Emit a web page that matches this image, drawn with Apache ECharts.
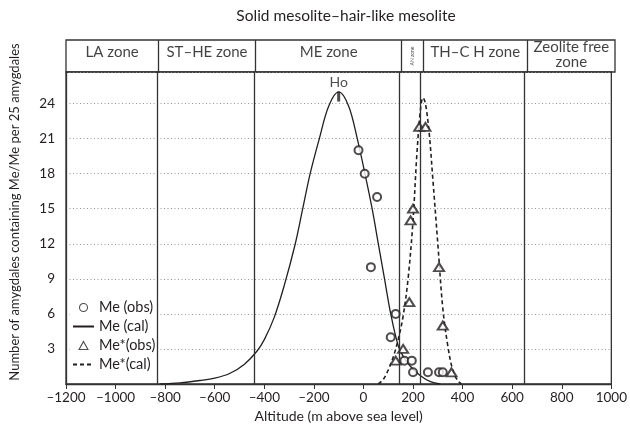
<!DOCTYPE html>
<html>
<head>
<meta charset="utf-8">
<script src="https://cdn.jsdelivr.net/npm/echarts@6/dist/echarts.min.js"></script>
<style>
	html, body { margin: 0; padding: 0; background: #fff; }
	#chart { width: 630px; height: 429px; }
</style>
</head>
<body>
<div id="chart"></div>
<script>
// zones along the altitude axis
var zoneNames = ['LA zone', 'ST–HE zone', 'ME zone', 'AN zone', 'TH–C H zone', 'Zeolite free\nzone'];
var zoneEdges = [-1200, -830, -440, 145, 230, 650, 1000];

// Me observed / calculated
var meObs = [[-20, 20], [5, 18], [55, 16], [30, 10], [130, 6], [110, 4], [165, 2], [195, 2], [200, 1], [260, 1], [305, 1], [320, 1]];
var meCalX = [-820, -740, -660, -600, -540, -480, -430, -400, -360, -320, -275, -245, -215, -178, -140, -100, -60, -25, 10, 35, 60, 85, 110, 140, 165, 190, 230, 270, 310];
var meCalY = [0, 0.1, 0.3, 0.5, 0.9, 1.7, 2.8, 3.8, 5.7, 8.4, 12, 15, 18, 21, 23.8, 25, 23.8, 21, 17.6, 15, 12, 9, 6, 3.3, 2.2, 1.5, 0.7, 0.2, 0];

// Me* observed / calculated
var meStarObs = [[225, 22], [250, 22], [200, 15], [190, 14], [185, 7], [160, 3], [130, 2], [305, 10], [320, 5], [355, 1]];
var meStarCalX = [60, 80, 100, 120, 140, 160, 180, 200, 215, 230, 240, 250, 265, 280, 300, 320, 340, 360, 380, 395];
var meStarCalY = [0, 0.4, 1.2, 2.3, 3.8, 5.8, 9, 14, 19.5, 23.5, 24.5, 24, 21.5, 17.5, 12, 6.5, 3.3, 1.2, 0.3, 0];

// Ho marker at the Me peak
var hoPoint = [-100, 24.6];

var yTicks = [3, 6, 9, 12, 15, 18, 21, 24];

var FONT = 'Lato';
var INK = '#231f20';

function pairs(xs, ys) {
	var out = [];
	for (var i = 0; i < xs.length; i++) out.push([xs[i], ys[i]]);
	return out;
}

var zoneLabels = [];
for (var i = 0; i < zoneNames.length; i++) {
	var item = {
		name: zoneNames[i],
		value: [(zoneEdges[i] + zoneEdges[i + 1]) / 2, 0.62]
	};
	if (zoneNames[i] === 'AN zone') {
		item.label = { rotate: 90, fontSize: 5 };
		item.value = [(zoneEdges[i] + zoneEdges[i + 1]) / 2, 0.5];
	}
	if (zoneNames[i].indexOf('\n') >= 0) {
		item.value = [(zoneEdges[i] + zoneEdges[i + 1]) / 2, 0.55];
	}
	zoneLabels.push(item);
}
var boundaryLines = zoneEdges.slice(1, zoneEdges.length - 1).map(function (v) {
	return { xAxis: v };
});

var myChart = echarts.init(document.getElementById('chart'));
var option = {
	animation: false,
	backgroundColor: '#fff',
	textStyle: { fontFamily: FONT, color: INK },
	title: {
		text: 'Solid mesolite–hair-like mesolite',
		left: 341,
		textAlign: 'center',
		top: 3,
		textStyle: { fontFamily: FONT, fontSize: 15.5, fontWeight: 'normal', color: INK }
	},
	legend: {
		orient: 'vertical',
		left: 70,
		top: 297,
		itemGap: 4,
		itemWidth: 21,
		itemHeight: 8,
		backgroundColor: '#fff',
		padding: [3, 4, 3, 2],
		textStyle: { fontFamily: FONT, fontSize: 14.5, color: INK },
		data: [
			{ name: 'Me (obs)', icon: 'circle', itemStyle: { color: '#fff', borderColor: INK, borderWidth: 1.1 } },
			{ name: 'Me (cal)', itemStyle: { opacity: 0 } },
			{ name: 'Me*(obs)', icon: 'path://M5,0 L10,9 L0,9 Z', itemStyle: { color: '#fff', borderColor: INK, borderWidth: 1.1 } },
			{ name: 'Me*(cal)', itemStyle: { opacity: 0 } }
		]
	},
	grid: [
		// zone header
		{ left: 66, right: 15, top: 40, height: 32, show: true, borderColor: '#333', borderWidth: 1.3 },
		// data area
		{ left: 66, right: 15, top: 72, bottom: 45, show: true, borderColor: '#333', borderWidth: 1.3 }
	],
	xAxis: [
		{ gridIndex: 0, type: 'value', min: -1200, max: 1000, show: false },
		{
			gridIndex: 1,
			type: 'value',
			min: -1200,
			max: 1000,
			interval: 200,
			name: 'Altitude (m above sea level)',
			nameLocation: 'middle',
			nameGap: 25,
			nameTextStyle: { fontFamily: FONT, fontSize: 14, color: INK },
			axisLine: { onZero: false, lineStyle: { color: '#333', width: 1.3 } },
			axisTick: { length: 5, lineStyle: { color: '#333' } },
			axisLabel: {
				fontFamily: FONT, fontSize: 13.5, color: INK, margin: 7,
				formatter: function (v) { return v < 0 ? '–' + Math.abs(v) : String(v); }
			},
			splitLine: { show: false }
		}
	],
	yAxis: [
		{ gridIndex: 0, type: 'value', min: 0, max: 1, show: false },
		{
			gridIndex: 1,
			type: 'value',
			min: 0,
			max: 26.7,
			interval: 3,
			name: 'Number of amygdales containing Me/Me per 25 amygdales',
			nameLocation: 'middle',
			nameGap: 45,
			nameTextStyle: { fontFamily: FONT, fontSize: 13, color: INK, padding: [0, 0, 0, 32] },
			axisLine: { show: true, onZero: false, lineStyle: { color: '#333', width: 1.3 } },
			axisTick: { show: false },
			axisLabel: {
				fontFamily: FONT, fontSize: 13.5, color: INK, margin: 11,
				formatter: function (v) { return yTicks.indexOf(v) >= 0 ? String(v) : ''; }
			},
			splitLine: { show: true, lineStyle: { color: '#8a8a8a', type: [1, 2.5], width: 0.9 } }
		}
	],
	series: [
		{
			name: 'zones',
			type: 'scatter',
			xAxisIndex: 0,
			yAxisIndex: 0,
			silent: true,
			symbolSize: 0,
			data: zoneLabels,
			label: {
				show: true,
				position: 'inside',
				formatter: '{b}',
				fontFamily: FONT,
				fontSize: 15,
				lineHeight: 15,
				color: '#111'
			},
			markLine: {
				silent: true,
				symbol: 'none',
				label: { show: false },
				lineStyle: { color: '#333', type: 'solid', width: 1.3 },
				data: boundaryLines
			}
		},
		{
			name: 'Me (cal)',
			type: 'line',
			xAxisIndex: 1,
			yAxisIndex: 1,
			smooth: 0.35,
			symbol: 'none',
			showSymbol: false,
			lineStyle: { color: INK, width: 1.3 },
			itemStyle: { color: INK },
			data: pairs(meCalX, meCalY),
			markLine: {
				silent: true,
				symbol: 'none',
				label: { show: false },
				lineStyle: { color: '#333', type: 'solid', width: 1.3 },
				data: boundaryLines
			}
		},
		{
			name: 'Me*(cal)',
			type: 'line',
			xAxisIndex: 1,
			yAxisIndex: 1,
			smooth: 0.35,
			symbol: 'none',
			showSymbol: false,
			lineStyle: { color: INK, width: 1.6, type: [4, 3] },
			itemStyle: { color: INK },
			data: pairs(meStarCalX, meStarCalY)
		},
		{
			name: 'Me (obs)',
			type: 'scatter',
			xAxisIndex: 1,
			yAxisIndex: 1,
			symbol: 'emptyCircle',
			symbolSize: 8,
			itemStyle: { color: INK, borderColor: INK, borderWidth: 1.1 },
			data: meObs,
			z: 4
		},
		{
			name: 'Me*(obs)',
			type: 'scatter',
			xAxisIndex: 1,
			yAxisIndex: 1,
			symbol: 'emptyTriangle',
			symbolSize: [10, 8],
			itemStyle: { color: INK, borderColor: INK, borderWidth: 1.1 },
			data: meStarObs,
			z: 4
		},
		{
			name: 'Ho',
			type: 'scatter',
			xAxisIndex: 1,
			yAxisIndex: 1,
			silent: true,
			symbol: 'rect',
			symbolSize: [3, 10],
			itemStyle: { color: INK },
			label: {
				show: true,
				position: 'top',
				distance: 2,
				formatter: 'Ho',
				fontFamily: FONT,
				fontSize: 14,
				color: INK
			},
			data: [hoPoint]
		}
	]
};
myChart.setOption(option);
</script>
</body>
</html>
